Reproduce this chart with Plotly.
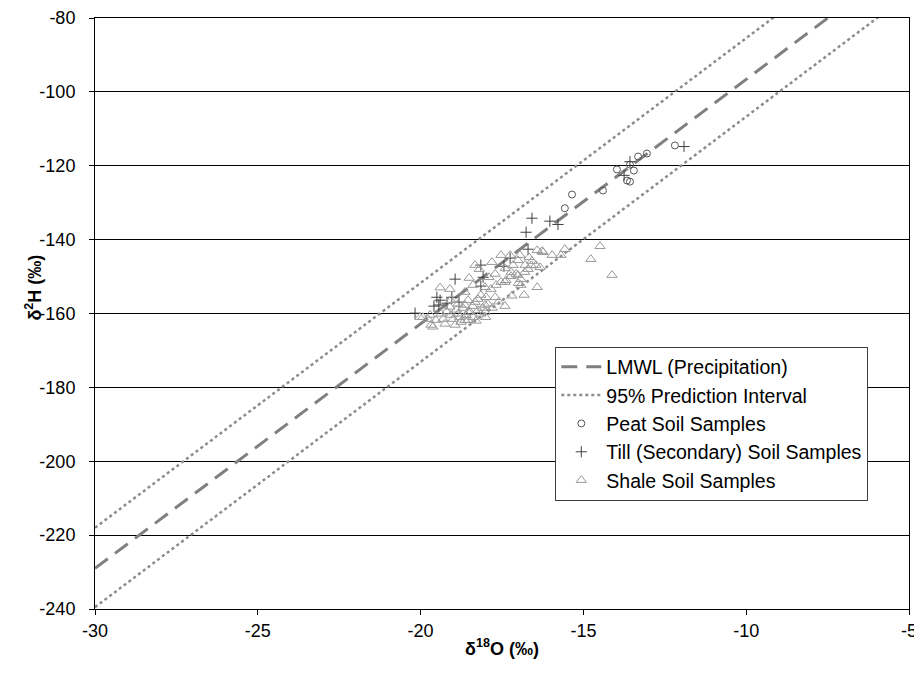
import plotly.graph_objects as go

# ---- Data ----
lmwl_x = [-30, -5]
lmwl_y = [-229.0, -63.5]
pi_upper_x = [-30, -5]
pi_upper_y = [-218.0, -52.3]
pi_lower_x = [-30, -5]
pi_lower_y = [-239.5, -73.5]

peat_x = [-12.19, -13.05, -13.32, -13.57, -13.97, -13.45, -13.66, -13.57, -14.40, -15.35, -15.57]
peat_y = [-114.5, -116.7, -117.5, -119.7, -121.0, -121.3, -124.0, -124.3, -126.7, -127.8, -131.5]

till_x = [-11.91, -13.57, -13.75, -16.58, -16.03, -15.78, -16.76, -16.70, -17.25, -18.15,
          -17.44, -18.08, -18.94, -18.15, -19.50, -19.40, -19.19, -19.59, -19.44, -19.04,
          -20.17, -18.82]
till_y = [-114.8, -118.9, -122.6, -134.2, -135.0, -135.9, -138.0, -142.6, -145.0, -146.9,
          -147.2, -150.2, -150.7, -152.6, -155.6, -156.4, -157.2, -158.0, -157.7, -155.6,
          -159.9, -156.9]

shale_x = [-14.49, -14.77, -14.12, -15.57, -15.69, -15.96, -16.27, -16.42, -16.42, -16.82,
           -17.41, -17.53, -17.25, -16.95, -16.67, -16.58, -16.46, -16.33, -16.79, -16.70,
           -17.01, -17.16, -17.07, -16.92, -16.92, -17.22, -17.38, -17.53, -17.71, -18.33,
           -17.81, -18.51, -18.39, -18.02, -17.84, -17.68, -19.10, -19.07, -18.64, -18.15,
           -17.71, -17.93, -18.33, -18.64, -18.85, -18.54, -18.24, -18.02, -19.00, -18.76,
           -18.54, -19.25, -19.68, -19.53, -19.93, -20.02, -19.71, -19.37, -19.07, -16.24,
           -17.22, -17.01, -18.85, -18.54, -18.24, -17.99, -18.02, -19.77, -19.62, -19.31,
           -18.94, -18.64, -18.39, -18.15, -18.48, -17.41, -18.70, -18.40, -18.10, -18.90,
           -19.10, -18.30, -18.60, -17.80, -18.00, -18.80, -19.20, -17.60, -17.20, -17.00,
           -16.80, -16.60, -17.40, -17.90, -18.20, -19.40]
shale_y = [-141.8, -145.3, -149.6, -142.6, -144.2, -144.2, -143.1, -142.9, -152.9, -155.0,
           -158.0, -144.2, -144.2, -144.2, -144.8, -145.8, -146.9, -147.5, -146.9, -148.0,
           -145.6, -146.9, -149.3, -150.7, -152.3, -149.9, -151.0, -151.5, -149.3, -146.9,
           -146.1, -150.4, -152.3, -152.9, -153.4, -152.3, -153.4, -156.4, -154.2, -155.0,
           -155.6, -157.4, -156.9, -157.7, -160.1, -159.6, -159.1, -159.6, -161.5, -162.3,
           -161.8, -162.8, -163.1, -161.8, -161.0, -161.0, -160.4, -160.1, -160.4, -143.4,
           -148.8, -149.6, -157.4, -156.4, -156.1, -155.6, -157.7, -161.5, -163.6, -161.5,
           -163.1, -161.8, -161.0, -160.1, -159.6, -151.5, -158.5, -158.0, -158.5, -159.0,
           -158.2, -162.0, -160.5, -158.5, -161.0, -161.0, -159.5, -156.8, -155.2, -151.8,
           -148.8, -147.0, -147.8, -150.2, -148.0, -153.0]

x_ticks = [-30, -25, -20, -15, -10, -5]
y_ticks = [-240, -220, -200, -180, -160, -140, -120, -100, -80]
x_title = "<b>δ<sup>18</sup>O (‰)</b>"
y_title = "<b>δ<sup>2</sup>H (‰)</b>"

FONT = "Arial, Liberation Sans, sans-serif"

fig = go.Figure()

fig.add_trace(go.Scatter(x=lmwl_x, y=lmwl_y, mode="lines", name="LMWL (Precipitation)",
                         line=dict(color="#808080", width=3, dash="16px,9px")))
fig.add_trace(go.Scatter(x=pi_upper_x, y=pi_upper_y, mode="lines", name="95% Prediction Interval",
                         legendgroup="pi",
                         line=dict(color="#8c8c8c", width=2.5, dash="dot")))
fig.add_trace(go.Scatter(x=pi_lower_x, y=pi_lower_y, mode="lines", name="95% Prediction Interval",
                         legendgroup="pi", showlegend=False,
                         line=dict(color="#8c8c8c", width=2.5, dash="dot")))
fig.add_trace(go.Scatter(x=peat_x, y=peat_y, mode="markers", name="Peat Soil Samples",
                         marker=dict(symbol="circle-open", size=7, color="#555555",
                                     line=dict(width=1))))
fig.add_trace(go.Scatter(x=till_x, y=till_y, mode="markers", name="Till (Secondary) Soil Samples",
                         marker=dict(symbol="cross-thin-open", size=8, color="#404040",
                                     line=dict(width=1))))
fig.add_trace(go.Scatter(x=shale_x, y=shale_y, mode="markers", name="Shale Soil Samples",
                         marker=dict(symbol="triangle-up-open", size=9, color="#999999",
                                     line=dict(width=1))))

fig.update_layout(
    width=922, height=673,
    margin=dict(l=87, r=21, t=10, b=72, autoexpand=False),
    paper_bgcolor="white", plot_bgcolor="white",
    font=dict(family=FONT, size=18, color="black"),
    showlegend=True,
    legend=dict(x=0.95, y=0.1835, xanchor="right", yanchor="bottom",
                bgcolor="white", bordercolor="#404040", borderwidth=1,
                font=dict(family=FONT, size=19.5, color="black"),
                tracegroupgap=0, itemwidth=40),
    annotations=[
        dict(text=y_title, textangle=-90, xref="paper", yref="y", x=-0.075, y=-153,
             xanchor="center", yanchor="middle", showarrow=False,
             font=dict(family=FONT, size=18, color="black")),
        dict(text=x_title, xref="paper", yref="paper", x=0.5, y=-0.065,
             xanchor="center", yanchor="middle", showarrow=False,
             font=dict(family=FONT, size=18, color="black")),
    ],
)
fig.update_xaxes(range=[-30, -5], tickvals=x_ticks, ticktext=[str(v) for v in x_ticks],
                 showgrid=False, zeroline=False, automargin=False,
                 showline=True, linecolor="black", linewidth=1, mirror=True,
                 ticks="outside", ticklen=5, tickcolor="black",
                 ticklabeloverflow="allow",
                 tickfont=dict(family=FONT, size=18))
fig.update_yaxes(range=[-240, -80], tickvals=y_ticks, ticktext=[str(v) for v in y_ticks],
                 showgrid=True, gridcolor="black", gridwidth=1, zeroline=False,
                 automargin=False,
                 showline=True, linecolor="black", linewidth=1, mirror=True,
                 ticks="outside", ticklen=5, tickcolor="black", ticklabelstandoff=10,
                 ticklabeloverflow="allow",
                 tickfont=dict(family=FONT, size=18))

fig.write_html("out.html")
